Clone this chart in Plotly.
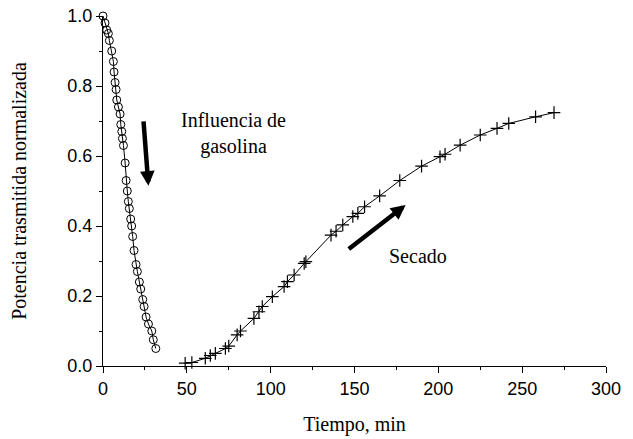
import plotly.graph_objects as go

# Influencia de gasolina (open circles)
t_gas = [0, 1.2, 2.2, 3.2, 3.8, 5.2, 6.2, 6.6, 7.2, 7.8, 8.2, 9.2, 10.2, 10.6, 11.2, 11.6,
         12.2, 13.2, 13.8, 14.5, 15.1, 15.7, 16.5, 17.1, 17.7, 18.5, 19.7, 20.5, 21.7,
         22.5, 23.7, 24.5, 25.7, 27.1, 29.1, 30.0, 31.5]
p_gas = [1.0, 0.98, 0.96, 0.95, 0.93, 0.90, 0.87, 0.84, 0.81, 0.79, 0.76, 0.74, 0.72, 0.69,
         0.67, 0.65, 0.63, 0.58, 0.53, 0.50, 0.47, 0.45, 0.42, 0.40, 0.37, 0.33, 0.29, 0.27,
         0.24, 0.22, 0.19, 0.17, 0.14, 0.12, 0.10, 0.075, 0.05]

# Secado (crosses)
t_sec = [49, 53, 61, 64, 67, 73, 75, 80, 82, 90, 93, 95, 101, 108, 110, 114, 120, 121,
         136, 139, 143, 149, 152, 156, 165, 177, 190, 201, 204, 213, 225, 235, 242, 258, 269]
p_sec = [0.008, 0.01, 0.022, 0.03, 0.036, 0.05, 0.057, 0.089, 0.10, 0.136, 0.155, 0.17,
         0.198, 0.227, 0.241, 0.26, 0.293, 0.298, 0.374, 0.385, 0.403, 0.427, 0.436, 0.455,
         0.486, 0.53, 0.571, 0.598, 0.605, 0.631, 0.66, 0.679, 0.693, 0.712, 0.724]

x_ticks = [0, 50, 100, 150, 200, 250, 300]
y_ticks = [0.0, 0.2, 0.4, 0.6, 0.8, 1.0]

fig = go.Figure()
fig.add_trace(go.Scatter(
    x=t_gas, y=p_gas, mode="lines+markers",
    line=dict(color="black", width=1),
    marker=dict(symbol="circle-open", size=8, color="black", line=dict(width=1)),
    cliponaxis=False, showlegend=False))
fig.add_trace(go.Scatter(
    x=t_sec, y=p_sec, mode="lines+markers",
    line=dict(color="black", width=1),
    marker=dict(symbol="cross-thin-open", size=9, color="black", line=dict(width=1.2, color="black")),
    cliponaxis=False, showlegend=False))

serif = "Liberation Serif, Times New Roman, serif"
sans = "Liberation Sans, Arial, sans-serif"

fig.update_layout(
    width=633, height=439,
    margin=dict(l=103, r=27, t=16, b=73),
    paper_bgcolor="white", plot_bgcolor="white",
    xaxis=dict(range=[0, 300], tickvals=x_ticks, tickformat="d", automargin=False,
               showgrid=False, zeroline=False, showline=True, linecolor="black", linewidth=1,
               ticks="outside", ticklen=6, tickcolor="black",
               minor=dict(dtick=25, ticks="outside", ticklen=3, tickcolor="black", showgrid=False),
               tickfont=dict(family=sans, size=18, color="black"),
               title=dict(text="Tiempo, min", font=dict(family=serif, size=20, color="black"), standoff=19)),
    yaxis=dict(range=[0, 1.0], tickvals=y_ticks, tickformat=".1f", automargin=False,
               showgrid=False, zeroline=False, showline=True, linecolor="black", linewidth=1,
               ticks="outside", ticklen=6, tickcolor="black",
               minor=dict(dtick=0.1, ticks="outside", ticklen=3, tickcolor="black", showgrid=False),
               tickfont=dict(family=sans, size=18, color="black"),
               title=dict(text="Potencia trasmitida normalizada", font=dict(family=serif, size=20, color="black"), standoff=35)),
)

fig.add_annotation(x=27.1, y=0.515, ax=24.1, ay=0.703, xref="x", yref="y", axref="x", ayref="y",
                   showarrow=True, arrowhead=2, arrowsize=0.65, arrowwidth=4.5, arrowcolor="black", text="")
fig.add_annotation(x=180.5, y=0.46, ax=145.7, ay=0.331, xref="x", yref="y", axref="x", ayref="y",
                   showarrow=True, arrowhead=2, arrowsize=0.65, arrowwidth=4.5, arrowcolor="black", text="")
fig.add_annotation(x=77.7, y=0.664, xref="x", yref="y", showarrow=False,
                   text="Influencia de<br>gasolina", align="center",
                   font=dict(family=serif, size=20, color="black"))
fig.add_annotation(x=187.9, y=0.314, xref="x", yref="y", showarrow=False,
                   text="Secado", font=dict(family=serif, size=20, color="black"))

fig.write_html("out.html", config={"displayModeBar": False},
               post_script="document.body.style.margin='0';")
